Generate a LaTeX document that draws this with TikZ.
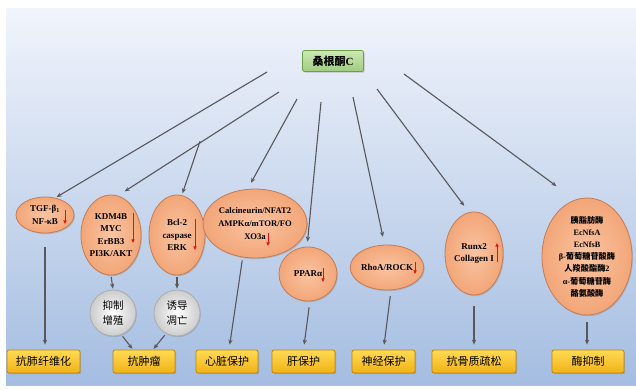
\documentclass[tikz,border=0pt]{standalone}
\usepackage{fontspec}
\setmainfont{Liberation Serif}
\newfontfamily\cjk{Noto Sans CJK SC}
\usetikzlibrary{arrows.meta,shapes.geometric,shadows}
\definecolor{bgtop}{RGB}{241,244,251}
\definecolor{bgbot}{RGB}{164,189,225}
\definecolor{linegray}{RGB}{88,88,92}
\definecolor{ellin}{RGB}{250,196,162}
\definecolor{ellout}{RGB}{242,166,120}
\definecolor{ellline}{RGB}{196,124,84}
\definecolor{ytop}{RGB}{255,218,84}
\definecolor{ybot}{RGB}{241,178,24}
\definecolor{yline}{RGB}{186,132,20}
\definecolor{gtop}{RGB}{204,232,178}
\definecolor{gbot}{RGB}{160,204,128}
\definecolor{gline}{RGB}{108,158,78}
\definecolor{redarrow}{RGB}{225,20,20}
\begin{document}
\begin{tikzpicture}[x=1pt,y=-1pt,
  conn/.style={draw=linegray,line width=1.1pt,-{Stealth[length=5pt,width=4.2pt]}},
  redarr/.style={draw=redarrow,line width=0.9pt,-{Triangle[length=3.6pt,width=3.2pt]}},
  ell/.style={ellipse,draw=ellline,line width=0.8pt,shading=radial,inner color=ellin,outer color=ellout,
    inner sep=0pt,align=center,font=\bfseries\fontsize{9}{12.6}\selectfont,
    drop shadow={shadow xshift=1pt,shadow yshift=-1.2pt,opacity=0.3}},
  gball/.style={circle,draw=gray!65,line width=0.8pt,shading=radial,inner color=white,outer color=gray!40,
    minimum size=46pt,inner sep=0pt,align=center,font=\cjk\fontsize{10.5}{15.5}\selectfont,
    drop shadow={shadow xshift=1pt,shadow yshift=-1.2pt,opacity=0.3}},
  ybox/.style={rectangle,rounded corners=2pt,draw=yline,line width=0.8pt,top color=ytop,bottom color=ybot,
    minimum height=23pt,inner sep=0pt,font=\cjk\fontsize{11}{13}\selectfont,
    drop shadow={shadow xshift=1.2pt,shadow yshift=-1.2pt,opacity=0.4}},
  gbox/.style={rectangle,rounded corners=2pt,draw=gline,line width=0.8pt,top color=gtop,bottom color=gbot,
    minimum width=61pt,minimum height=21pt,inner sep=0pt,font=\fontsize{11}{13}\selectfont\bfseries,
    drop shadow={shadow xshift=1.2pt,shadow yshift=-1.2pt,opacity=0.4}}
]
\useasboundingbox (0,0) rectangle (636,390);
\fill[white] (0,0) rectangle (636,390);
\shade[top color=bgtop,bottom color=bgbot] (6,9) rectangle (636,385);

% top node
\node[gbox] (top) at (333,61) {{\cjk 桑根酮}C};

% ellipses
\node[ell,minimum width=58pt,minimum height=36pt] (tgf) at (45,215)
  {\fontsize{9}{9.8}\selectfont TGF-β\textsubscript{1}\\NF-κB};
\node[ell,minimum width=56pt,minimum height=80pt] (kdm) at (111,235)
  {KDM4B\\MYC\\ErBB3\\PI3K/AKT};
\node[ell,minimum width=56pt,minimum height=80pt] (bcl) at (177,235)
  {Bcl-2\\caspase\\ERK};
\node[ell,minimum width=90pt,minimum height=69pt,font=\bfseries\fontsize{8.6}{12.6}\selectfont] (calc) at (255,223.5)
  {Calcineurin/NFAT2\\AMPKα/mTOR/FO\\XO3a};
\node[ell,minimum width=58pt,minimum height=54pt] (ppar) at (308,274) {PPARα};
\node[ell,minimum width=70pt,minimum height=45pt] (rho) at (387,267.5) {RhoA/ROCK};
\node[ell,minimum width=58pt,minimum height=83pt] (runx) at (474,253.5) {Runx2\\Collagen I};
\node[ell,minimum width=90pt,minimum height=117pt,font=\bfseries\fontsize{8.2}{12.2}\selectfont] (enz) at (587,256.5)
  {{\cjk 胰脂肪酶}\\EcNfsA\\EcNfsB\\β-{\cjk 葡萄糖苷酸酶}\\{\cjk 人羧酸酯酶}2\\α-{\cjk 葡萄糖苷酶}\\{\cjk 酪氨酸酶}};

% gray balls
\node[gball] (prol) at (113,313) {抑制\\增殖};
\node[gball] (apop) at (177,313) {诱导\\凋亡};

% yellow boxes
\node[ybox,minimum width=73pt] (fib) at (43.5,361.5) {抗肺纤维化};
\node[ybox,minimum width=62pt] (tumor) at (144,361.5) {抗肿瘤};
\node[ybox,minimum width=62pt] (cardio) at (227,361.5) {心脏保护};
\node[ybox,minimum width=63pt] (liver) at (303.5,361.5) {肝保护};
\node[ybox,minimum width=63pt] (neuro) at (383.5,361.5) {神经保护};
\node[ybox,minimum width=84pt] (osteo) at (474,361.5) {抗骨质疏松};
\node[ybox,minimum width=72pt] (enzinh) at (588,361.5) {酶抑制};

% start points of the fan
\coordinate (sA) at (267,72);
\coordinate (sB) at (279,92);
\coordinate (br) at (200,141.3);
\coordinate (sD) at (297,99);
\coordinate (sE) at (321,102);
\coordinate (sF) at (353,97);
\coordinate (sG) at (377,89);
\coordinate (sH) at (404,74);

\draw[conn,shorten >=1.5pt] (sA) -- (tgf.59);
\draw[conn,shorten >=8pt] (sB) -- (kdm.80);
\draw[conn,shorten >=2pt] (br) -- (bcl.83);
\draw[conn,shorten >=7pt] (sD) -- (calc.102);
\draw[conn,shorten >=5pt] (sE) -- (ppar.92);
\draw[conn,shorten >=8pt] (sF) -- (rho.96);
\draw[conn,shorten >=8pt] (sG) -- (runx.97);
\draw[conn,shorten >=23pt] (sH) -- (enz.102);

% lower connectors
\draw[conn,shorten <=14pt,shorten >=5pt] (tgf.south) -- (tgf.south |- fib.north);
\draw[conn,shorten <=1.5pt,shorten >=1pt] (kdm.south) -- (prol.north);
\draw[conn,shorten <=1.5pt,shorten >=1pt] (bcl.south) -- (apop.north);
\draw[conn,shorten <=2pt,shorten >=1pt] (prol.-69) -- ([xshift=-11pt]tumor.north);
\draw[conn,shorten <=2pt,shorten >=1pt] (apop.-118) -- ([xshift=9pt]tumor.north);
\draw[conn,shorten <=3pt,shorten >=5pt] (calc.-110) -- ([xshift=2pt]cardio.north);
\draw[conn,shorten <=6pt,shorten >=5pt] (ppar.-86) -- (liver.north);
\draw[conn,shorten <=6pt,shorten >=5pt] (rho.-80) -- (neuro.north);
\draw[conn,shorten <=11pt,shorten >=5pt] (runx.south) -- (runx.south |- osteo.north);
\draw[conn,shorten <=7pt,shorten >=5pt] (enz.south) -- (enz.south |- enzinh.north);

% red trend arrows
\draw[redarr] (65,210) -- (65,224);
\draw[redarr] (133,213) -- (133,243);
\draw[redarr] (195,219) -- (195,250);
\draw[redarr] (268,233) -- (268,246);
\draw[redarr] (323,268) -- (323,282);
\draw[redarr] (415,262) -- (415,274);
\draw[redarr] (497,262) -- (497,243);
\end{tikzpicture}
\end{document}
